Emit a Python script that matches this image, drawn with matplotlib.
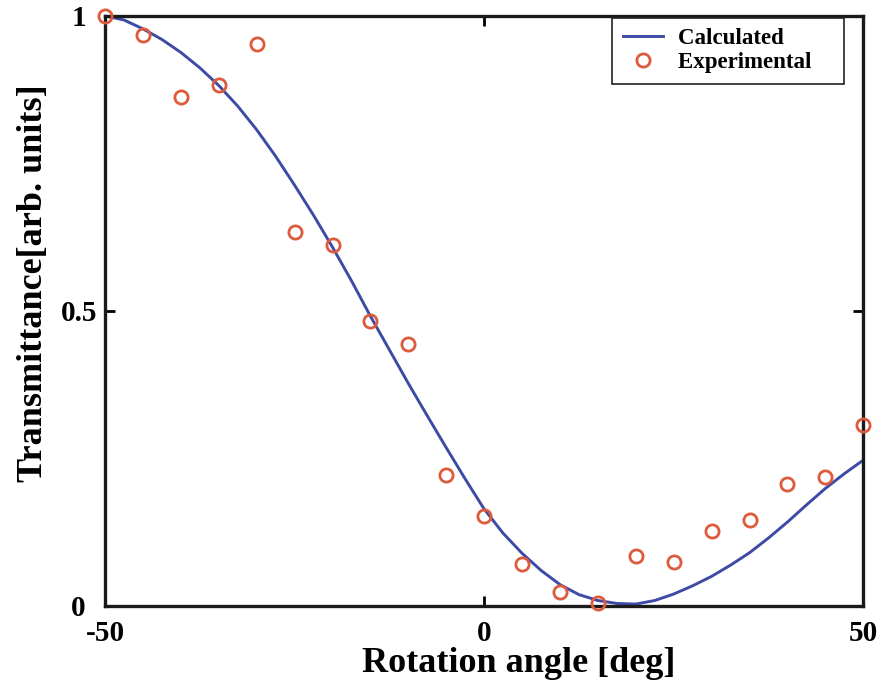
import matplotlib
matplotlib.use("Agg")
import matplotlib.pyplot as plt

# Experimental data (5-degree steps)
exp_angle = [-50, -45, -40, -35, -30, -25, -20, -15, -10, -5, 0,
             5, 10, 15, 20, 25, 30, 35, 40, 45, 50]
exp_trans = [1.000, 0.968, 0.862, 0.882, 0.953, 0.634, 0.612, 0.483, 0.443, 0.222, 0.152,
             0.071, 0.024, 0.004, 0.085, 0.074, 0.126, 0.145, 0.206, 0.218, 0.306]

# Calculated curve
calc_angle = [-50, -47.5, -45, -42.5, -40, -37.5, -35, -32.5, -30, -27.5, -25, -22.5,
              -20, -17.5, -15, -12.5, -10, -7.5, -5, -2.5, 0, 2.5, 5, 7.5, 10, 12.5,
              15, 17.5, 20, 22.5, 25, 27.5, 30, 32.5, 35, 37.5, 40, 42.5, 45, 47.5, 50]
calc_trans = [1.000, 0.993, 0.978, 0.960, 0.938, 0.912, 0.882, 0.847, 0.807, 0.762, 0.713, 0.662,
              0.608, 0.551, 0.491, 0.434, 0.377, 0.322, 0.268, 0.215, 0.164, 0.123, 0.089, 0.060,
              0.036, 0.019, 0.009, 0.004, 0.003, 0.009, 0.020, 0.034, 0.050, 0.069, 0.090, 0.115,
              0.142, 0.171, 0.199, 0.224, 0.247]

x_ticks = [-50, 0, 50]
x_tick_labels = ["-50", "0", "50"]
y_ticks = [0, 0.5, 1]
y_tick_labels = ["0", "0.5", "1"]

plt.rcParams['font.family'] = ['Liberation Serif', 'DejaVu Serif']
plt.rcParams['font.weight'] = 'bold'

fig = plt.figure(figsize=(8.9, 6.9), dpi=100)
ax = fig.add_axes([0.118, 0.122, 0.852, 0.855])

ax.plot(calc_angle, calc_trans, color='#3d4aa6', lw=2.1, label='Calculated', zorder=2)
ax.plot(exp_angle, exp_trans, linestyle='none', marker='o', markersize=9.5,
        markerfacecolor='none', markeredgecolor='#de5a3c', markeredgewidth=2.0,
        label='Experimental', clip_on=False, zorder=3)

ax.set_xlim(-50, 50)
ax.set_ylim(0, 1)
ax.set_xticks(x_ticks)
ax.set_xticklabels(x_tick_labels)
ax.set_yticks(y_ticks)
ax.set_yticklabels(y_tick_labels)
for lab in ax.get_yticklabels():
    lab.set_horizontalalignment('center')

ax.tick_params(axis='both', direction='in', length=7, width=2, labelsize=21,
               top=True, right=True)
ax.tick_params(axis='x', pad=10)
ax.tick_params(axis='y', pad=19)
for sp in ax.spines.values():
    sp.set_linewidth(2.4)
    sp.set_color('#1a1a1a')

ax.set_xlabel('Rotation angle [deg]', fontsize=26, fontweight='bold')
ax.xaxis.set_label_coords(0.545, -0.070)
ax.set_ylabel('Transmittance[arb. units]', fontsize=26, fontweight='bold')
ax.yaxis.set_label_coords(-0.072, 0.547)

leg = ax.legend(loc='upper right', bbox_to_anchor=(0.975, 0.997), fontsize=16.5,
                frameon=True, fancybox=False, edgecolor='#222222', framealpha=1,
                borderpad=0.45, handlelength=1.75, labelspacing=0.15,
                borderaxespad=0.0, handletextpad=0.65)
leg.get_frame().set_linewidth(1.2)
for t in leg.get_texts():
    t.set_fontweight('bold')
    t.set_text(t.get_text() + '    ')

fig.savefig('out.png', dpi=100)
